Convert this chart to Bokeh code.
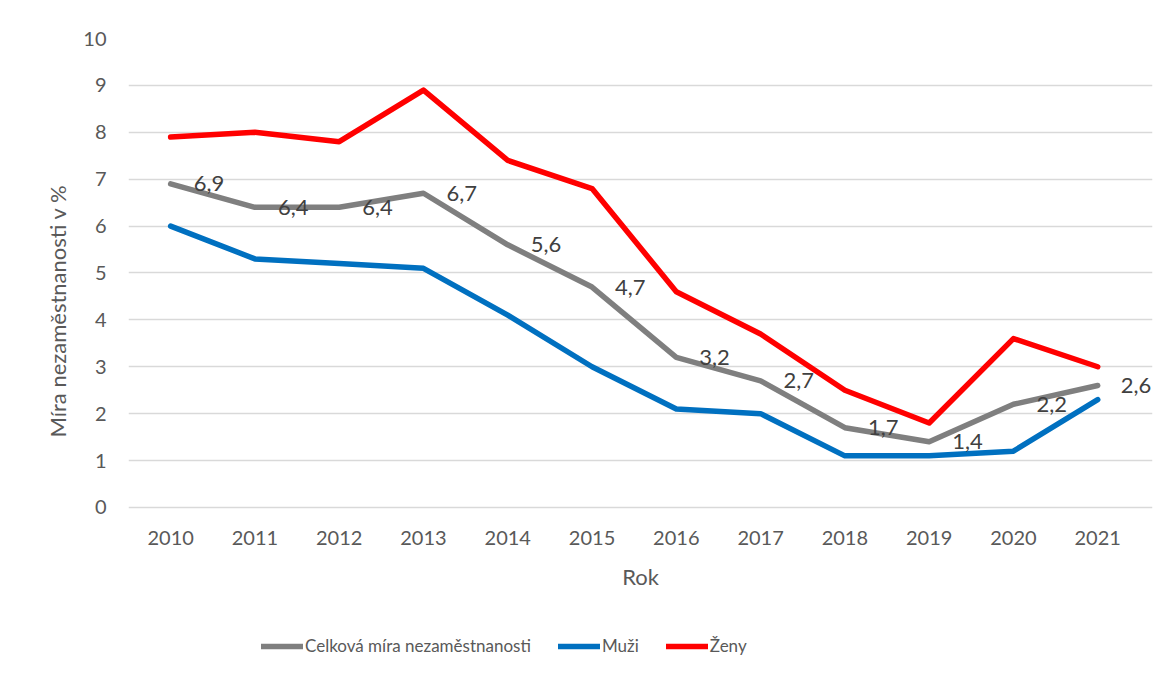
from bokeh.plotting import figure
from bokeh.models import Legend, LegendItem, FixedTicker, ColumnDataSource, Range1d, Title
from bokeh.core.properties import value
from bokeh.embed import file_html
from bokeh.resources import INLINE

years = [2010, 2011, 2012, 2013, 2014, 2015, 2016, 2017, 2018, 2019, 2020, 2021]
celkova = [6.9, 6.4, 6.4, 6.7, 5.6, 4.7, 3.2, 2.7, 1.7, 1.4, 2.2, 2.6]
muzi = [6.0, 5.3, 5.2, 5.1, 4.1, 3.0, 2.1, 2.0, 1.1, 1.1, 1.2, 2.3]
zeny = [7.9, 8.0, 7.8, 8.9, 7.4, 6.8, 4.6, 3.7, 2.5, 1.8, 3.6, 3.0]
y_ticks = [0, 1, 2, 3, 4, 5, 6, 7, 8, 9, 10]
series_names = ["Celková míra nezaměstnanosti", "Muži", "Ženy"]
colors = ["#7f7f7f", "#0070c0", "#ff0000"]

FONT = "Lato"

p = figure(width=1154, height=679, output_backend="svg", toolbar_location=None,
           x_range=Range1d(2009.5, 2021.65), y_range=Range1d(-3.52, 10),
           min_border_left=128, min_border_right=2, min_border_top=38, min_border_bottom=7)
p.outline_line_color = None
p.background_fill_color = "white"

# grid
p.xgrid.grid_line_color = None
p.ygrid.grid_line_color = "#d9d9d9"
p.ygrid.grid_line_width = 1.5
p.yaxis.ticker = FixedTicker(ticks=y_ticks)
p.xaxis.ticker = FixedTicker(ticks=years)

for ax in (p.xaxis[0], p.yaxis[0]):
    ax.axis_line_color = None
    ax.major_tick_line_color = None
    ax.minor_tick_line_color = None
    ax.major_label_text_font = FONT
    ax.major_label_text_font_size = "20px"
    ax.major_label_text_color = "#595959"
    ax.axis_label_text_font = FONT
    ax.axis_label_text_font_size = "22px"
    ax.axis_label_text_font_style = "normal"
    ax.axis_label_text_color = "#595959"

p.xaxis.fixed_location = 0
p.yaxis.major_label_standoff = 16
p.xaxis.major_label_standoff = 18
p.xaxis.axis_label = "Rok"
p.xaxis.axis_label_standoff = 14

ytitle = Title(text="Míra nezaměstnanosti v %", align="left", offset=235,
               text_font=FONT, text_font_size="22px", text_font_style="normal",
               text_color="#595959", standoff=20)
p.add_layout(ytitle, "left")

renderers = []
for name, vals, col in zip(series_names, [celkova, muzi, zeny], colors):
    r = p.line(years, vals, line_color=col, line_width=5.5, line_cap="round", line_join="round")
    renderers.append(r)

labels_src = ColumnDataSource(dict(x=years, y=celkova,
                                   t=[f"{v:.1f}".replace(".", ",") for v in celkova]))
p.text(x="x", y="y", text="t", source=labels_src, x_offset=23, text_baseline="middle",
       text_align="left", text_font=value(FONT), text_font_size="22px", text_color="#404040")

legend = Legend(items=[LegendItem(label=n, renderers=[r]) for n, r in zip(series_names, renderers)],
                orientation="horizontal", location=(133, 16),
                label_text_font=FONT, label_text_font_size="17px", label_text_color="#595959",
                glyph_width=42, label_standoff=2, spacing=27, border_line_color=None,
                background_fill_alpha=0, padding=4)
p.add_layout(legend, "center")

open("out.html", "w").write(file_html(p, INLINE))
